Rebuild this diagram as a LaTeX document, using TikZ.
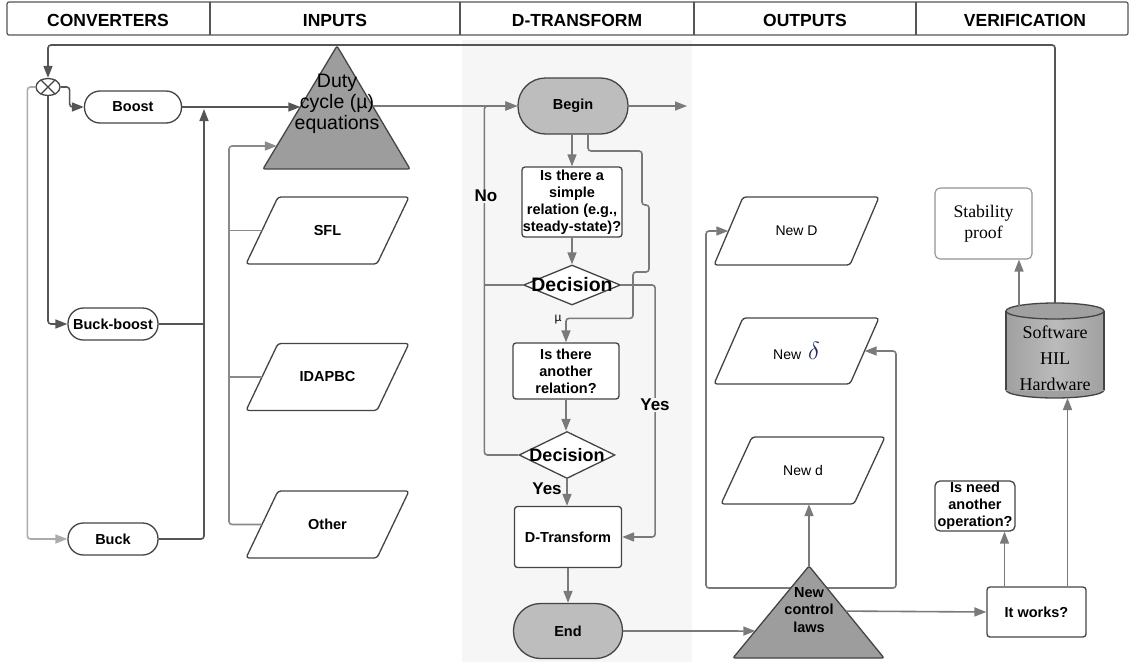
\documentclass[tikz,border=0pt]{standalone}
\usepackage{fontspec}
\setmainfont{Liberation Sans}
\newfontfamily\serifface{Liberation Serif}
\usetikzlibrary{arrows.meta,shapes.geometric,calc}
\definecolor{lineg}{HTML}{7A7A7A}
\definecolor{darkl}{HTML}{555555}
\definecolor{lightl}{HTML}{ABABAB}
\definecolor{busg}{HTML}{8A8A8A}
\definecolor{edgec}{HTML}{444444}
\definecolor{trig}{HTML}{9D9D9D}
\definecolor{termg}{HTML}{BDBDBD}
\definecolor{panelc}{HTML}{F6F6F6}
\definecolor{cylo}{HTML}{A0A0A0}
\definecolor{cylm}{HTML}{BBBBBB}
\definecolor{deltac}{HTML}{1E2A5E}
\newcommand\myfs[2]{\fontsize{#1}{#2}\selectfont}
\tikzset{
  arr/.style={-{Triangle[length=12pt,width=9pt]}},
  arrboth/.style={{Triangle[length=12pt,width=9pt]}-{Triangle[length=12pt,width=9pt]}},
  conn/.style={draw=lineg, line width=1.6pt, rounded corners=3pt, arr},
  plainline/.style={draw=lineg, line width=1.6pt, rounded corners=3pt},
  shp/.style={draw=edgec, line width=1.3pt},
  termn/.style={shp, fill=white, rounded corners=15.5pt, inner sep=0pt, align=center, font=\bfseries\myfs{14.5}{17}},
  pbox/.style={shp, fill=white, rounded corners=3pt, inner sep=0pt, align=center, font=\bfseries\myfs{14.5}{17}},
  decn/.style={shp, fill=white, diamond, inner sep=0pt},
  lbl/.style={font=\bfseries\myfs{17}{20}, inner sep=1pt},
  headn/.style={font=\bfseries\myfs{17.5}{20}, inner sep=0pt},
}
% name, cx, cy, width, height, slant, text, font
\newcommand\parabox[8]{%
  \draw[shp, fill=white, rounded corners=3pt] ($(#2,#3)+(-#4/2,#5/2)$) -- ++({#4-#6},0) -- ++(#6,-#5) -- ++({-#4+#6},0) -- cycle;
  \node[inner sep=0pt, minimum width={#4-#6}, minimum height=#5, font=#8] (#1) at (#2,#3) {#7};
}
\begin{document}
\begin{tikzpicture}[x=1pt,y=-1pt]
\useasboundingbox (0,0) rectangle (1131,664);
\fill[white] (0,0) rectangle (1131,664);
\fill[panelc] (462,40) rectangle (692,662);
% header
\draw[darkl, line width=1.2pt, rounded corners=2pt] (7,2) rectangle (1128,35);
\foreach \xx in {210,460,694,916} \draw[darkl, line width=1.2pt] (\xx,2) -- (\xx,35);
\node[headn] (h1) at (108,20) {CONVERTERS};
\node[headn] (h2) at (335,20) {INPUTS};
\node[headn] (h3) at (577,20) {D-TRANSFORM};
\node[headn] (h4) at (805,20) {OUTPUTS};
\node[headn] (h5) at (1025,20) {VERIFICATION};

% converters
\node[shp, ellipse, minimum width=24pt, minimum height=17pt, inner sep=0pt, fill=white] (sum) at (48,87) {};
\draw[shp, line width=1.1pt] (sum.45) -- (sum.225) (sum.135) -- (sum.315);
\node[termn, minimum width=97pt, minimum height=32pt] (boost) at (133,107) {Boost};
\node[termn, minimum width=90pt, minimum height=32pt] (bb) at (113,324) {Buck-boost};
\node[termn, minimum width=90pt, minimum height=32pt] (buck) at (113,539) {Buck};
\draw[conn, draw=darkl] (sum.east) -- ++(9,0) |- (boost.west);
\draw[conn, draw=darkl] (sum.south) |- (bb.west);
\draw[conn, draw=lightl] (sum.west) -- ++(-8,0) |- (buck.west);
\coordinate (busTop) at (204,109);
\draw[conn, draw=darkl] (buck.east) -| (busTop);
\draw[plainline, draw=darkl] (bb.east) -- (bb.east -| busTop);

% duty triangle
\coordinate (dA) at (337,46);
\coordinate (dL) at (263,169);
\coordinate (dR) at (410,169);
\filldraw[shp, fill=trig, rounded corners=2pt] (dA) -- (dR) -- (dL) -- cycle;
\node[font=\myfs{19.5}{21}, align=center, inner sep=0pt] (duty) at (337,104) {Duty\\cycle (µ)\\equations};
\coordinate (dIn1) at ($(dA)!0.496!(dL)$);
\coordinate (dIn2) at ($(dA)!0.813!(dL)$);
\coordinate (dOut) at ($(dA)!0.488!(dR)$);
\draw[conn, draw=darkl] (boost.east) -- (dIn1);

% inputs
\parabox{sfl}{327.5}{230.5}{163}{67}{32}{SFL}{\bfseries\myfs{14.5}{17}}
\parabox{idapbc}{327.5}{377}{163}{67}{32}{IDAPBC}{\bfseries\myfs{14.5}{17}}
\parabox{other}{327.5}{524.5}{163}{67}{32}{Other}{\bfseries\myfs{14.5}{17}}
\coordinate (ib) at (229,146);
\draw[conn, draw=busg] (other.west) -| (ib) -- (dIn2);
\draw[plainline, draw=busg] (sfl.west) -- (sfl.west -| ib);
\draw[plainline, draw=busg] (idapbc.west) -- (idapbc.west -| ib);

% D-transform column
\node[termn, fill=termg, rounded corners=27.5pt, minimum width=110pt, minimum height=56pt] (begin) at (573,106) {Begin};
\draw[conn] (dOut) -- (begin.west);
\coordinate (outA) at (687,106);
\draw[conn] (begin.east) -- (outA);
\node[pbox, minimum width=100pt, minimum height=70pt] (q1) at (572,202) {Is there a\\simple\\relation (e.g.,\\steady-state)?};
\draw[conn] (q1.north |- begin.south) -- (q1.north);
\node[decn, minimum width=97pt, minimum height=40pt] (d1) at (572,285) {};
\node[font=\bfseries\myfs{19.5}{20}, inner sep=0pt] (d1t) at (d1) {Decision};
\draw[conn] (q1.south) -- (d1.north);
\node[pbox, minimum width=106pt, minimum height=56pt] (q2) at (566,371) {Is there\\another\\relation?};
\node[decn, minimum width=96pt, minimum height=47pt] (d2) at (567,455) {};
\node[font=\bfseries\myfs{18}{20}, inner sep=0pt] (d2t) at (d2) {Decision};
\draw[conn] (q2.south) -- (q2.south |- d2.north);
\node[pbox, minimum width=107pt, minimum height=61pt] (dtr) at (568,537) {D-Transform};
\draw[conn] (d2.south) -- (d2.south |- dtr.north);
\node[termn, fill=termg, rounded corners=27pt, minimum width=109pt, minimum height=55pt] (endn) at (568,631) {End};
\draw[conn] (dtr.south) -- (endn.north);
% No loop
\draw[conn] (d2.west) -- ++(-34,0) |- (begin.west);
\draw[plainline] (d1.west) -- ++(-38,0);
\node[lbl, fill=panelc] (no) at (486,196) {No};
% Yes loop
\draw[conn] (d1.east) -- ++(34,0) |- (dtr.east);
\node[lbl, fill=panelc] (yes1) at (655,405) {Yes};
% bypass
\draw[conn] ($(begin.south)+(15,0)$) |- (642,151) |- (649,205) |- (633,272) |- ($(q2.north)+(0,-24)$) -- (q2.north);
\node[font=\myfs{12}{12}, inner sep=0pt] (mu) at (558,320) {µ};
\node[lbl] (yes2) at (547,489) {Yes};

% outputs
\parabox{newD}{796.5}{231}{165}{68}{29}{New D}{\myfs{14}{17}}
\parabox{newdel}{796.5}{351}{165}{66}{29}{New\hspace{7pt}{\color{deltac}\myfs{23}{23}$\delta$}}{\myfs{14}{17}}
\parabox{newd}{803}{470.5}{164}{67}{31}{New d}{\myfs{14}{17}}
\coordinate (lpL) at (706,588);
\coordinate (lpR) at (896,588);
\draw[plainline, arrboth] (newdel.east) -| (lpR) -- (lpL) |- (newD.west);

% new control laws triangle
\coordinate (nA) at (809,566);
\coordinate (nL) at (733,658);
\coordinate (nR) at (884,658);
\filldraw[shp, fill=trig, rounded corners=2pt] (nA) -- (nR) -- (nL) -- cycle;
\node[font=\bfseries\myfs{14.5}{17.5}, align=center, inner sep=0pt] (ncl) at (809,610) {New\\control\\laws};
\coordinate (nIn) at ($(nA)!0.707!(nL)$);
\coordinate (nOut) at ($(nA)!0.49!(nR)$);
\draw[conn] (endn.east) -- (nIn);
\draw[conn] (nA) -- (nA |- newd.south);

% verification
\node[draw=gray!85, line width=1.1pt, rounded corners=5pt, fill=white, minimum width=97pt, minimum height=71pt, inner sep=0pt, align=center, font=\serifface\myfs{17.7}{21}] (stab) at (983.5,223.5) {Stability\\proof};
\filldraw[shp, fill=cylo] (1055,390) ellipse [x radius=49, y radius=8];
\shade[left color=cylo, right color=cylo, middle color=cylm] (1006,311) rectangle (1104,390);
\draw[shp] (1006,311) -- (1006,390) (1104,311) -- (1104,390);
\filldraw[shp, fill=cylo] (1055,311) ellipse [x radius=49, y radius=8];
\node[font=\serifface\myfs{18}{26}, align=center, inner sep=0pt] (cyl) at (1055,358) {Software\\HIL\\Hardware};
\coordinate (cylTop) at (1055,303);
\coordinate (cylA) at (1019,305.5);
\coordinate (cylB) at (1067.5,398);
\coordinate (fbc) at (0,45);
\draw[conn] (cylA) -- (cylA |- stab.south);
\draw[conn, draw=darkl] (cylTop) |- (sum.north |- fbc) -- (sum.north);

\node[pbox, minimum width=99pt, minimum height=50pt] (itw) at (1036.5,612) {It works?};
\node[pbox, rounded corners=5pt, minimum width=80pt, minimum height=50pt] (need) at (975,506) {Is need\\another\\operation?};
\draw[conn] (nOut) -- (itw.west);
\coordinate (itwA) at ($(itw.north)+(-32,0)$);
\coordinate (itwB) at ($(itw.north)+(31,0)$);
\draw[conn] (itwA) -- (itwA |- need.south);
\draw[conn] (itwB) -- (cylB);
\end{tikzpicture}
\end{document}
